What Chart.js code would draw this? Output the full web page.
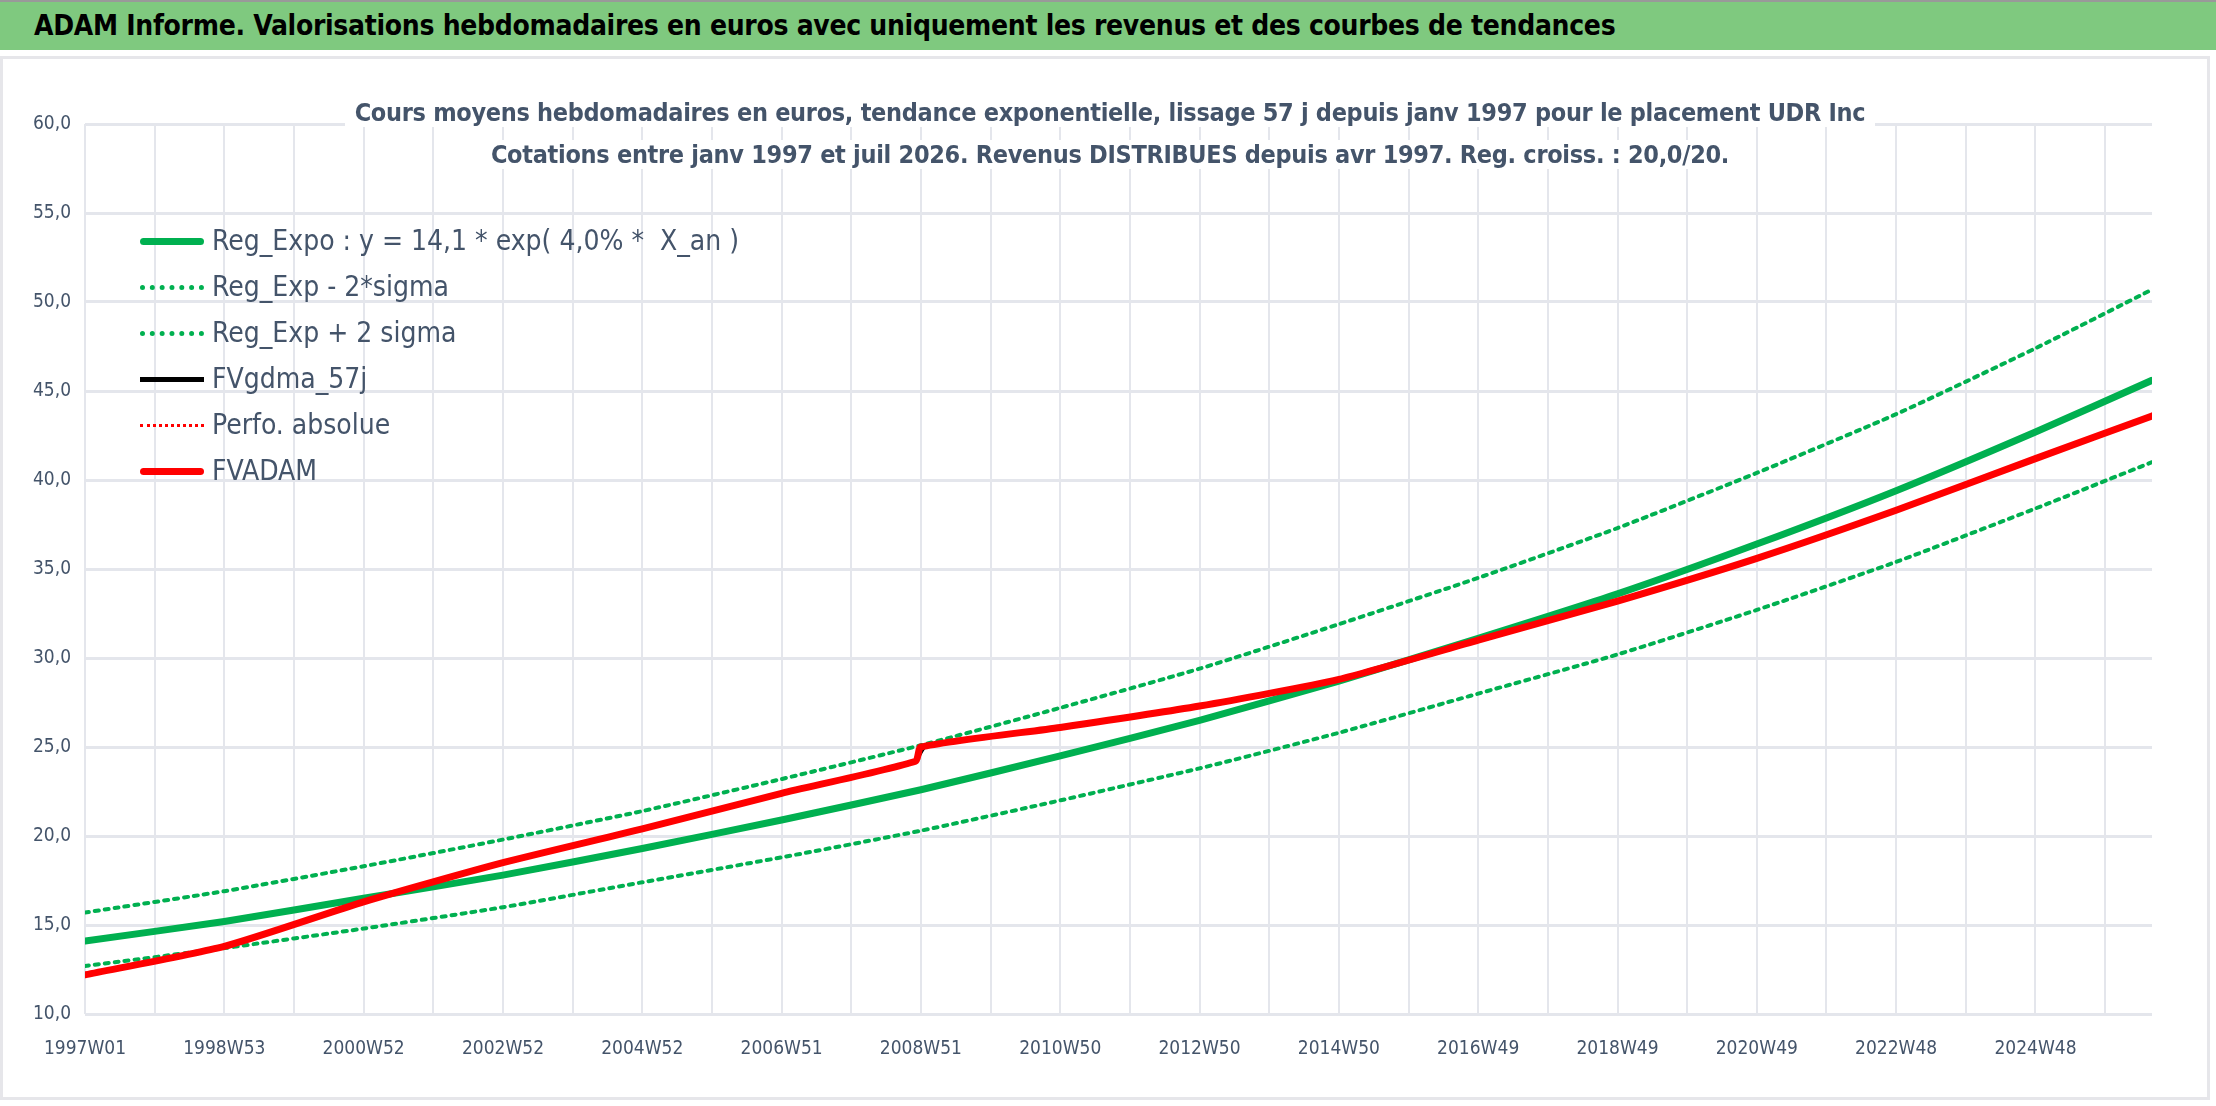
<!DOCTYPE html>
<html>
<head>
<meta charset="utf-8">
<script src="https://cdn.jsdelivr.net/npm/chart.js@4/dist/chart.umd.min.js"></script>
<style>
  body { margin: 0; width: 2216px; height: 1106px; background: #fff; overflow: hidden; font-family: "DejaVu Sans Condensed", "DejaVu Sans", sans-serif; }
  #bar { position: absolute; left: 0; top: 0; width: 2216px; height: 50px; background: #7fc97f; border-top: 2px solid #999; box-sizing: border-box; }
  #bar span { position: absolute; left: 34px; top: 7px; font-size: 28px; font-weight: bold; color: #000; letter-spacing: -0.3px; }
  #wrap { position: absolute; left: 0; top: 56px; width: 2210px; height: 1044px; border: 3px solid #e6e6ea; box-sizing: border-box; }
  #sub { position: absolute; left: 240px; top: 92px; width: 1740px; text-align: center; color: #44546a; font-weight: bold; font-size: 25px; line-height: 42px; white-space: nowrap; letter-spacing: -0.3px; }
  #sub span { background: #fff; padding: 0 10px; }
  #legend { position: absolute; left: 140px; top: 218px; font-size: 28px; color: #44546a; line-height: 46px; }
  #legend div { display: flex; align-items: center; }
  #legend i { display: inline-block; width: 64px; margin-right: 8px; }
</style>
</head>
<body>
<div id="bar"><span>ADAM Informe. Valorisations hebdomadaires en euros avec uniquement les revenus et des courbes de tendances</span></div>
<div id="wrap"><canvas id="c"></canvas></div>
<div id="sub"><span>Cours moyens hebdomadaires en euros, tendance exponentielle, lissage 57 j depuis janv 1997 pour le placement UDR Inc</span><br><span>Cotations entre janv 1997 et juil 2026. Revenus DISTRIBUES depuis avr 1997. Reg. croiss. : 20,0/20.</span></div>
<div id="legend">
  <div><i style="border-top:7px solid #00b050;border-radius:4px"></i>Reg_Expo : y = 14,1 * exp( 4,0% *&nbsp; X_an )</div>
  <div><i style="border-top:5px dotted #00b050"></i>Reg_Exp - 2*sigma</div>
  <div><i style="border-top:5px dotted #00b050"></i>Reg_Exp + 2 sigma</div>
  <div><i style="border-top:5px solid #000"></i>FVgdma_57j</div>
  <div><i style="border-top:3px dotted #ff0000"></i>Perfo. absolue</div>
  <div><i style="border-top:7px solid #ff0000;border-radius:4px"></i>FVADAM</div>
</div>
<script>
// x = week index since 1997W01
const tickLabels = ['1997W01', '1998W53', '2000W52', '2002W52', '2004W52', '2006W51', '2008W51', '2010W50',
  '2012W50', '2014W50', '2016W49', '2018W49', '2020W49', '2022W48', '2024W48'];
const lastWeek = 1543;

const trendWeeks = [0, 104, 208, 312, 416, 520, 624, 728, 832, 936, 1040, 1144, 1248, 1352, 1456, 1543];
const regExpo = [14.1, 15.2, 16.5, 17.8, 19.3, 20.9, 22.6, 24.5, 26.5, 28.7, 31.1, 33.6, 36.4, 39.4, 42.7, 45.6];
const regLow = [12.7, 13.7, 14.8, 16.0, 17.4, 18.8, 20.3, 22.0, 23.8, 25.8, 28.0, 30.2, 32.7, 35.4, 38.4, 41.0];
const regHigh = [15.7, 16.9, 18.3, 19.8, 21.4, 23.2, 25.1, 27.2, 29.4, 31.9, 34.5, 37.3, 40.4, 43.7, 47.4, 50.7];

const fvWeeks = [0, 104, 208, 312, 416, 520, 620, 624, 728, 832, 936, 1040, 1144, 1248, 1352, 1456, 1543];
const fvAdam = [12.2, 13.8, 16.3, 18.5, 20.4, 22.4, 24.2, 25.0, 26.1, 27.3, 28.8, 31.0, 33.2, 35.6, 38.3, 41.2, 43.6];
const gdmaWeeks = [0, 104, 208, 312, 416, 520, 620, 628, 728, 832, 936, 1040, 1144, 1248, 1352, 1456, 1543];
const fvGdma = [12.2, 13.8, 16.3, 18.5, 20.4, 22.4, 24.2, 25.0, 26.1, 27.3, 28.8, 31.0, 33.2, 35.6, 38.3, 41.2, 43.6];

const pts = (xs, ys) => xs.map((x, i) => ({ x: x, y: ys[i] }));
const tickFont = { family: 'DejaVu Sans Condensed', size: 19 };

document.addEventListener('DOMContentLoaded', () => {
    const canvas = document.getElementById('c');
    canvas.style.width = '2204px';
    canvas.style.height = '1038px';
    // first dataset is drawn on top
    new Chart(canvas.getContext('2d'), {
        type: 'line',
        data: {
            datasets: [
                { label: 'FVADAM', data: pts(fvWeeks, fvAdam), borderColor: '#ff0000', borderWidth: 7 },
                { label: 'Perfo. absolue', data: pts(fvWeeks, fvAdam), borderColor: '#ff0000', borderWidth: 2, borderDash: [3, 4] },
                { label: 'FVgdma_57j', data: pts(gdmaWeeks, fvGdma), borderColor: '#000', borderWidth: 2 },
                { label: 'Reg_Expo', data: pts(trendWeeks, regExpo), borderColor: '#00b050', borderWidth: 7 },
                { label: 'Reg_Exp - 2*sigma', data: pts(trendWeeks, regLow), borderColor: '#00b050', borderWidth: 4, borderDash: [4, 6] },
                { label: 'Reg_Exp + 2 sigma', data: pts(trendWeeks, regHigh), borderColor: '#00b050', borderWidth: 4, borderDash: [4, 6] }
            ]
        },
        options: {
            responsive: false,
            animation: false,
            elements: { point: { radius: 0 }, line: { tension: 0.2, borderCapStyle: 'round' } },
            layout: { padding: { left: 0, top: 65, right: 55, bottom: 0 } },
            plugins: { legend: { display: false }, tooltip: { enabled: false } },
            scales: {
                x: {
                    type: 'linear', min: 0, max: lastWeek,
                    afterFit: (s) => { s.height = 83; },
                    afterBuildTicks: (s) => {
                        const t = [];
                        for (let w = 0; w <= lastWeek; w += 52) t.push({ value: w });
                        s.ticks = t;
                    },
                    ticks: {
                        autoSkip: false, maxRotation: 0, padding: 24,
                        color: '#44546a', font: tickFont,
                        callback: (v) => (v % 104 === 0 ? (tickLabels[v / 104] || '') : '')
                    },
                    grid: { color: '#e4e6ec', lineWidth: 2, drawTicks: false },
                    border: { display: false }
                },
                y: {
                    min: 10, max: 60,
                    afterFit: (s) => { s.width = 82; },
                    ticks: {
                        stepSize: 5, padding: 14,
                        color: '#44546a', font: tickFont,
                        callback: (v) => v.toFixed(1).replace('.', ',')
                    },
                    grid: { color: '#e4e6ec', lineWidth: 3, drawTicks: false },
                    border: { display: false }
                }
            }
        }
    });
});
</script>
</body>
</html>
